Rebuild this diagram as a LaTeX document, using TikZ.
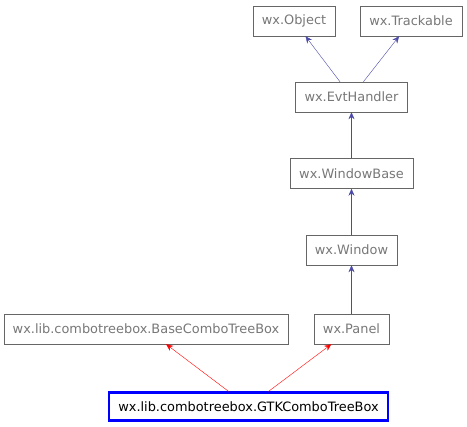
\documentclass[tikz,border=0pt]{standalone}
\usepackage{fontspec}
\setmainfont{DejaVu Sans}
\usetikzlibrary{arrows.meta}
\definecolor{boxgrey}{HTML}{666666}
\definecolor{txtgrey}{HTML}{777777}
\definecolor{inheritblue}{HTML}{4A4AA8}
\begin{document}
\begin{tikzpicture}[node distance=77pt, auto,
  cls/.style={draw=boxgrey, text=txtgrey, rectangle, minimum height=30pt, inner xsep=9pt, font=\fontsize{12.9}{14}\selectfont},
  current/.style={draw=blue, line width=2.2pt, text=black, rectangle, minimum height=28pt, inner xsep=9pt, font=\fontsize{12.9}{14}\selectfont},
  inherit/.style={arrows=-{Stealth[length=7pt, width=6pt]}}]
\useasboundingbox (0pt,0pt) rectangle (467pt,-427pt);
\node  (gtk)[current] at (248.5pt,-406.5pt) {wx.lib.combotreebox.GTKComboTreeBox};
\node  (panel)[cls]   [above of = gtk, xshift=103pt, yshift=0.5pt] {wx.Panel};
\node  (base)[cls]    [left of = panel, node distance=205.5pt] {wx.lib.combotreebox.BaseComboTreeBox};
\node  (window)[cls]  [above of = panel, yshift=2pt] {wx.Window};
\node  (wbase)[cls]   [above of = window, yshift=-0.5pt] {wx.WindowBase};
\node  (evt)[cls]     [above of = wbase, yshift=-0.5pt] {wx.EvtHandler};
\node  (object)[cls]  [above of = evt, xshift=-57.5pt, yshift=-1pt] {wx.Object};
\node  (track)[cls]   [above of = evt, xshift=59.5pt, yshift=-1pt] {wx.Trackable};
\draw[inherit, inheritblue] (evt) -- (object);
\draw[inherit, inheritblue] (evt) -- (track);
\draw[inherit, inheritblue] (wbase) -- (evt);
\draw[inherit, inheritblue] (window) -- (wbase);
\draw[inherit, inheritblue] (panel) -- (window);
\draw[inherit, red] (gtk) -- (base);
\draw[inherit, red] (gtk) -- (panel);
\end{tikzpicture}
\end{document}
